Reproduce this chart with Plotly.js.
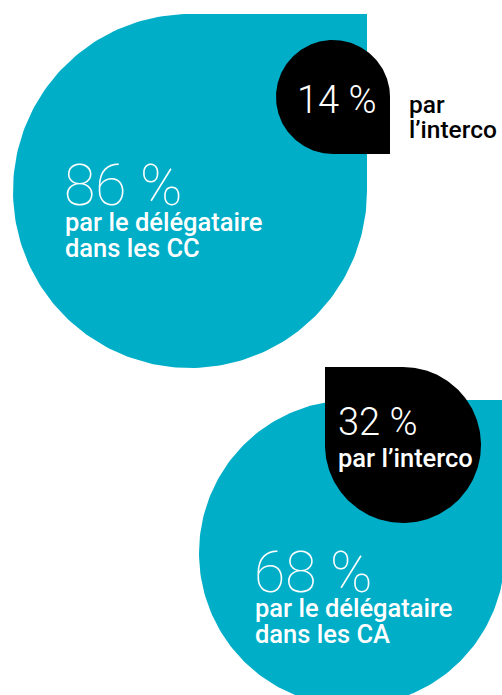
<!DOCTYPE html>
<html>
<head>
<meta charset="utf-8">
<script src="https://cdn.plot.ly/plotly-3.0.1.min.js"></script>
<style>html,body{margin:0;padding:0;background:#fff;}#chart{width:502px;height:695px;}</style>
</head>
<body>
<div id="chart"></div>
<script>
// ---- data ----
const groups = ['CC', 'CA'];
const delegataireValues = [86, 68];
const intercoValues = [14, 32];
const delegataireLine1 = ['par le délégataire', 'par le délégataire'];
const delegataireLine2 = ['dans les CC', 'dans les CA'];
const intercoLabels = ['par l’interco', 'par l’interco'];

// ---- layout geometry (pixel units of the page) ----
const TEAL = '#00aec8';
const BLACK = '#000000';
const drops = [
  {cx: 190, cy: 191, r: 177, corner: 'tr', color: TEAL},
  {cx: 333, cy: 97,  r: 57,  corner: 'br', color: BLACK},
  {cx: 352, cy: 553, r: 153, corner: 'tr', color: TEAL},
  {cx: 403, cy: 445, r: 78,  corner: 'tl', color: BLACK}
];

function dropPath(d) {
  // quadrants in screen coords: 0 = br, 1 = bl, 2 = tl, 3 = tr
  const names = ['br', 'bl', 'tl', 'tr'];
  const xs = [], ys = [];
  const N = 60;
  for (let q = 0; q < 4; q++) {
    const a0 = q * Math.PI / 2, a1 = (q + 1) * Math.PI / 2;
    if (names[q] === d.corner) {
      xs.push(d.cx + d.r * Math.cos(a0)); ys.push(d.cy + d.r * Math.sin(a0));
      const sx = (q === 0 || q === 3) ? 1 : -1;
      const sy = (q === 0 || q === 1) ? 1 : -1;
      xs.push(d.cx + sx * d.r); ys.push(d.cy + sy * d.r);
    } else {
      for (let i = 0; i < N; i++) {
        const a = a0 + (a1 - a0) * i / N;
        xs.push(d.cx + d.r * Math.cos(a)); ys.push(d.cy + d.r * Math.sin(a));
      }
    }
  }
  xs.push(xs[0]); ys.push(ys[0]);
  return {x: xs, y: ys};
}

const traces = drops.map(d => {
  const p = dropPath(d);
  return {type: 'scatter', mode: 'lines', x: p.x, y: p.y, fill: 'toself',
          fillcolor: d.color, line: {width: 0, color: d.color}, hoverinfo: 'skip', showlegend: false};
});

const pct = v => v + ' %';
const FONT = 'Roboto, "Liberation Sans", Arial, sans-serif';
function ann(text, x, y, size, weight, color) {
  return {text: text, x: x, y: y, xref: 'x', yref: 'y', xanchor: 'left', yanchor: 'middle',
          showarrow: false, borderpad: 0, font: {family: FONT, size: size, weight: weight, color: color}};
}
const introWords = intercoLabels[0].split(' ');
const annotations = [
  ann(pct(delegataireValues[0]), 63, 185, 57, 100, '#fff'),
  ann(delegataireLine1[0], 64, 221.5, 25.5, 500, '#fff'),
  ann(delegataireLine2[0], 64, 247.5, 25.5, 500, '#fff'),
  ann(pct(intercoValues[0]), 296, 100, 38, 300, '#fff'),
  ann(introWords[0], 408, 104.5, 24.5, 500, '#000'),
  ann(introWords.slice(1).join(' '), 408, 129.5, 24.5, 500, '#000'),
  ann(pct(intercoValues[1]), 337, 422, 38, 300, '#fff'),
  ann(intercoLabels[1], 337, 457.5, 25.5, 500, '#fff'),
  ann(pct(delegataireValues[1]), 253, 572, 57, 100, '#fff'),
  ann(delegataireLine1[1], 254, 607.5, 25.5, 500, '#fff'),
  ann(delegataireLine2[1], 254, 633.5, 25.5, 500, '#fff')
];

const layout = {
  width: 502, height: 695,
  margin: {l: 0, r: 0, t: 0, b: 0},
  paper_bgcolor: '#fff', plot_bgcolor: '#fff',
  xaxis: {range: [0, 502], visible: false, fixedrange: true},
  yaxis: {range: [695, 0], visible: false, fixedrange: true},
  annotations: annotations,
  showlegend: false
};
Plotly.newPlot('chart', traces, layout, {displayModeBar: false, staticPlot: true});
</script>
</body>
</html>
